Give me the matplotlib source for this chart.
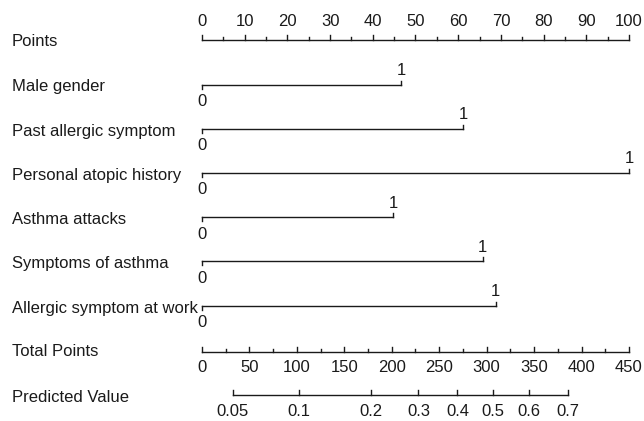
import numpy as np
import matplotlib
matplotlib.use("Agg")
import matplotlib.pyplot as plt

plt.rcParams['font.family'] = ['Liberation Sans', 'DejaVu Sans']

variables = ["Male gender", "Past allergic symptom", "Personal atopic history",
             "Asthma attacks", "Symptoms of asthma", "Allergic symptom at work"]
puntos_max = [46.6, 61.1, 100.0, 44.8, 65.7, 68.8]

puntos_ticks = list(range(0, 101, 10))
total_ticks = list(range(0, 451, 50))
prob_ticks = [0.05, 0.1, 0.2, 0.3, 0.4, 0.5, 0.6, 0.7]
prob_labels = ["0.05", "0.1", "0.2", "0.3", "0.4", "0.5", "0.6", "0.7"]

# total points = a + b * logit(p)
a_logit = 307.0
b_logit = 93.2
max_total = 450

fig = plt.figure(figsize=(6.44, 4.21), dpi=100)
ax = fig.add_axes([0, 0, 1, 1])
px_por_punto = (629 - 202) / 100
ax.set_xlim(-202 / px_por_punto, (644 - 202) / px_por_punto)
ax.set_ylim(421, 0)
ax.axis('off')

fs = 12
col = '#1a1a1a'
lw = 1.0
x_lab = 12 / px_por_punto - 202 / px_por_punto

# Escala de puntos
y = 40
ax.plot([0, 100], [y, y], color=col, lw=lw)
for v in range(0, 101, 5):
    L = 5.5 if v % 10 == 0 else 3
    ax.plot([v, v], [y, y - L], color=col, lw=lw)
for v in puntos_ticks:
    ax.text(v, 21, str(v), ha='center', va='center', fontsize=fs, color=col)
ax.text(x_lab, 42, "Points", ha='left', va='center', fontsize=fs, color=col)

# Variables
for i, (nombre, pm) in enumerate(zip(variables, puntos_max)):
    y = 84.5 + i * 44.2
    ax.plot([0, pm], [y, y], color=col, lw=lw)
    ax.plot([0, 0], [y, y + 4], color=col, lw=lw)
    ax.plot([pm, pm], [y, y - 4], color=col, lw=lw)
    ax.text(0, y + 17, "0", ha='center', va='center', fontsize=fs, color=col)
    ax.text(pm, y - 14, "1", ha='center', va='center', fontsize=fs, color=col)
    ax.text(x_lab, y + 2.5, nombre, ha='left', va='center', fontsize=fs, color=col)

# Total de puntos
y = 352
esc = 100 / max_total
ax.plot([0, max_total * esc], [y, y], color=col, lw=lw)
for v in range(0, max_total + 1, 25):
    L = 5 if v % 50 == 0 else 3
    ax.plot([v * esc, v * esc], [y, y - L], color=col, lw=lw)
for v in total_ticks:
    ax.text(v * esc, 368, str(v), ha='center', va='center', fontsize=fs, color=col)
ax.text(x_lab, 352, "Total Points", ha='left', va='center', fontsize=fs, color=col)

# Valor predicho
y = 395
p = np.array(prob_ticks)
tp = a_logit + b_logit * np.log(p / (1 - p))
xs = tp * esc
ax.plot([xs[0], xs[-1]], [y, y], color=col, lw=lw)
for xv, lab in zip(xs, prob_labels):
    ax.plot([xv, xv], [y, y - 5], color=col, lw=lw)
    ax.text(xv, 412, lab, ha='center', va='center', fontsize=fs, color=col)
ax.text(x_lab, 397, "Predicted Value", ha='left', va='center', fontsize=fs, color=col)

fig.savefig("out.png", dpi=100)
